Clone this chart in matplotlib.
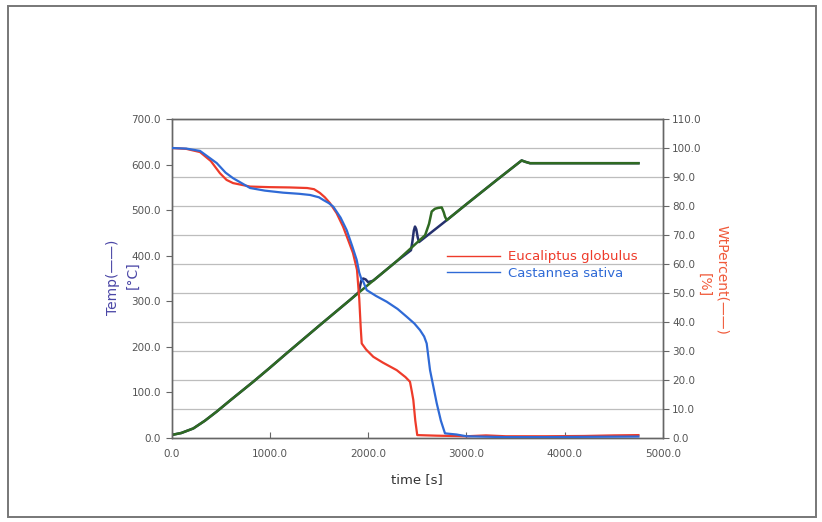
import numpy as np
import matplotlib
matplotlib.use("Agg")
import matplotlib.pyplot as plt
from matplotlib.lines import Line2D
from matplotlib.patches import Rectangle


# ---------------------------------------------------------------------
# Data: weight loss (%) and furnace temperature (°C) against time (s)
# ---------------------------------------------------------------------

euc_time = [0, 150, 290, 400, 493, 560, 626, 800, 1000, 1200, 1380, 1450, 1510,
            1560, 1612, 1680, 1745, 1800, 1846, 1887, 1910, 1925, 1935, 1980,
            2053, 2150, 2291, 2380, 2426, 2445, 2460, 2480, 2500, 2700, 3000,
            3200, 3400, 3800, 4200, 4500, 4750]
euc_wt = [100, 99.7, 98.6, 95.5, 91.3, 89.0, 87.9, 86.7, 86.5, 86.4, 86.2, 85.8,
          84.5, 83.0, 81.0, 77.5, 72.9, 68.0, 63.8, 58.0, 48.0, 38.0, 32.6, 30.5,
          28.0, 26.0, 23.4, 21.0, 19.4, 16.0, 13.1, 6.0, 1.0, 0.8, 0.6, 0.9,
          0.6, 0.6, 0.7, 0.9, 1.0]

cas_time = [0, 150, 290, 460, 550, 626, 800, 950, 1135, 1300, 1410, 1500, 1543,
            1600, 1645, 1720, 1782, 1840, 1884, 1910, 1935, 1950, 1986, 2080,
            2189, 2300, 2393, 2470, 2528, 2570, 2596, 2630, 2698, 2740, 2782,
            2900, 3000, 3400, 3800, 4200, 4750]
cas_wt = [100, 99.8, 99.0, 94.8, 91.5, 89.6, 86.2, 85.3, 84.6, 84.2, 83.8, 83.0,
          82.1, 81.0, 79.8, 76.0, 71.7, 66.0, 61.4, 57.0, 54.5, 54.0, 51.0, 49.0,
          47.0, 44.5, 41.8, 39.5, 37.2, 35.0, 32.6, 23.4, 12.0, 6.0, 1.6, 1.2,
          0.6, 0.3, 0.3, 0.4, 0.5]

temp_a_time = [0, 100, 222, 340, 460, 600, 832, 1000, 1172, 1511, 1816, 2000,
               2291, 2580, 2620, 2647, 2680, 2714, 2749, 2770, 2782, 2800, 3000,
               3308, 3562, 3600, 3647, 4750]
temp_a = [6.6, 11, 21, 38, 58, 83, 123.5, 154, 186, 248, 303, 336, 388, 445,
          470, 497, 503, 505, 506, 495, 486, 478, 513, 566, 609, 606, 603, 603]

temp_b_time = [0, 100, 222, 340, 460, 600, 832, 1000, 1172, 1511, 1816, 1905,
               1930, 1950, 1975, 2000, 2050, 2291, 2436, 2450, 2465, 2477, 2490,
               2505, 2518, 2800, 3000, 3308, 3562, 3600, 3647, 4750]
temp_b = [6.6, 11, 21, 38, 58, 83, 123.5, 154, 186, 248, 303, 320, 345, 350,
          348, 342, 345, 388, 412, 430, 455, 464, 458, 440, 430, 478, 513, 566,
          609, 606, 603, 603]

series_labels = ["Eucaliptus globulus", "Castannea sativa"]
temp_ticks = np.arange(0, 701, 100)
wt_ticks = np.arange(0, 111, 10)
time_ticks = np.arange(0, 5001, 1000)

RED = "#ee3b2a"
BLUE = "#2f6ad6"
GREEN = "#2f6a22"
NAVY = "#25306e"
TICK_GRAY = "#555555"


def main():
    fig = plt.figure(figsize=(8.22, 5.22), dpi=100)
    fig.patch.set_facecolor("white")

    # outer frame around the whole chart
    fig.add_artist(Rectangle((8 / 822, 5 / 522), 808 / 822, 511 / 522,
                             transform=fig.transFigure, fill=False,
                             edgecolor="#777777", linewidth=1.4))

    ax1 = fig.add_axes([171.5 / 822, 84 / 522, 491.5 / 822, 319 / 522])
    ax2 = ax1.twinx()

    # temperature curves (left axis)
    ax1.plot(temp_b_time, temp_b, color=NAVY, lw=1.8, zorder=3)
    ax1.plot(temp_a_time, temp_a, color=GREEN, lw=1.8, zorder=4)

    # weight curves (right axis)
    ax2.plot(euc_time, euc_wt, color=RED, lw=1.6, zorder=3)
    ax2.plot(cas_time, cas_wt, color=BLUE, lw=1.6, zorder=4)

    ax1.set_xlim(0, 5000)
    ax1.set_ylim(0, 700)
    ax2.set_ylim(0, 110)

    ax1.set_xticks(time_ticks)
    ax1.set_xticklabels([f"{v:.1f}" for v in time_ticks])
    ax1.set_yticks(temp_ticks)
    ax1.set_yticklabels([f"{v:.1f}" for v in temp_ticks])
    ax2.set_yticks(wt_ticks)
    ax2.set_yticklabels([f"{v:.1f}" for v in wt_ticks])

    # horizontal grid follows the right-hand scale
    for w in wt_ticks[1:]:
        ax1.axhline(w * 700 / 110, color="#bdbdbd", lw=0.9, zorder=1)

    ax1.tick_params(axis="x", direction="in", length=4, width=0.8,
                    labelsize=7.5, labelcolor=TICK_GRAY, color="#666666", pad=8)
    ax1.tick_params(axis="y", direction="out", length=4.5, width=0.8,
                    labelsize=7.5, labelcolor=TICK_GRAY, color="#666666", pad=3)
    ax2.tick_params(axis="y", direction="out", length=4.5, width=0.8,
                    labelsize=7.5, labelcolor=TICK_GRAY, color="#666666", pad=2)

    for ax in (ax1, ax2):
        for sp in ax.spines.values():
            sp.set_color("#666666")
            sp.set_linewidth(1.0)

    ax1.set_xlabel("time [s]", fontsize=9.5, color="#333333", labelpad=10)

    # axis titles
    fig.text(113 / 822, 1 - 277 / 522, "Temp(——)", rotation=90, color="#4a46a6",
             fontsize=10, ha="center", va="center")
    fig.text(133 / 822, 1 - 275 / 522, "[°C]", rotation=90, color="#4a46a6",
             fontsize=10, ha="center", va="center")
    fig.text(722 / 822, 1 - 280 / 522, "WtPercent(——)", rotation=-90,
             color="#f05a3a", fontsize=10, ha="center", va="center")
    fig.text(704 / 822, 1 - 285 / 522, "[%]", rotation=-90, color="#f05a3a",
             fontsize=10, ha="center", va="center")

    handles = [Line2D([], [], color=RED, lw=1.0),
               Line2D([], [], color=BLUE, lw=1.0)]
    leg = ax2.legend(handles, series_labels, loc="center left",
                     bbox_to_anchor=(447 / 822, 1 - 265 / 522),
                     bbox_transform=fig.transFigure, frameon=False,
                     fontsize=9.5, handlelength=4.0, handletextpad=0.6,
                     labelspacing=0.25, borderpad=0, borderaxespad=0)
    for txt, col in zip(leg.get_texts(), [RED, BLUE]):
        txt.set_color(col)

    fig.savefig("out.png", dpi=100, facecolor="white")


if __name__ == "__main__":
    main()
